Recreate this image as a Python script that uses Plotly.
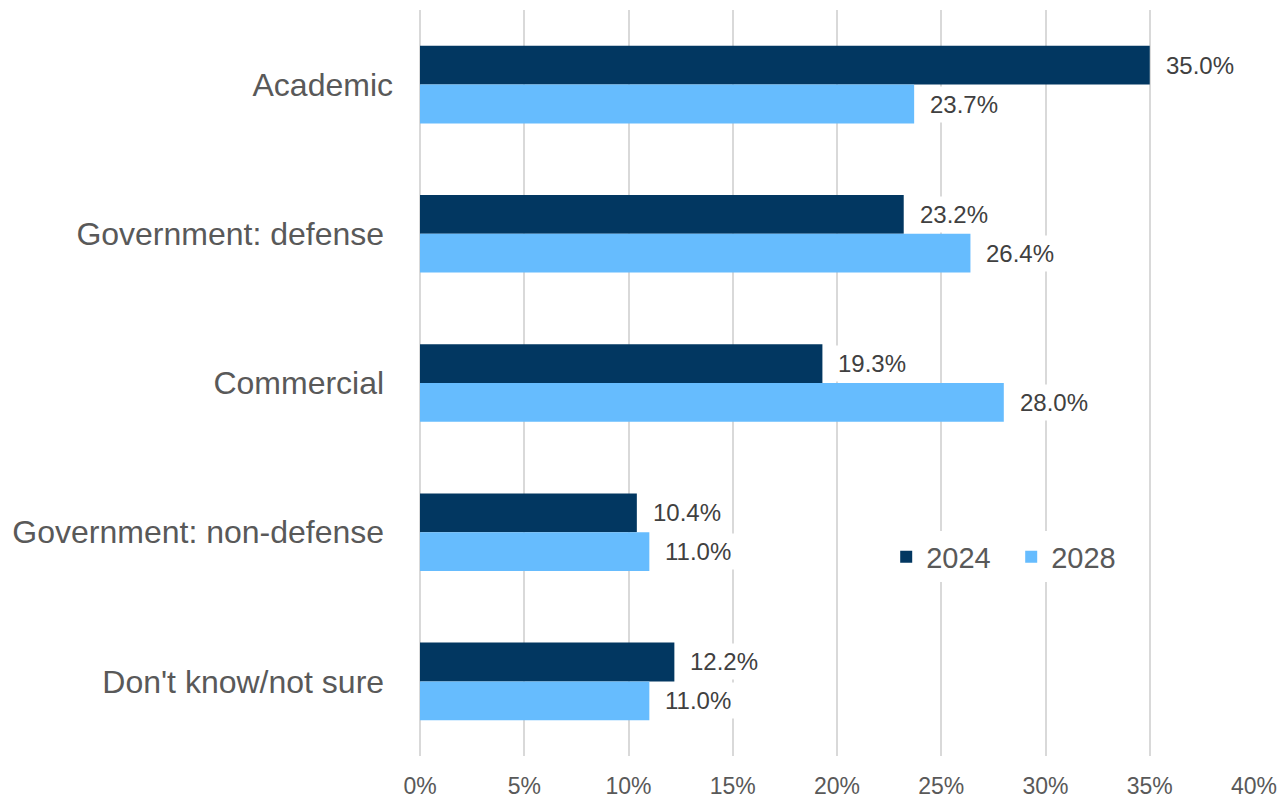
import plotly.graph_objects as go

# Sector shares (%) for each year
categories = ["Academic", "Government: defense\u00a0", "Commercial\u00a0",
              "Government: non-defense\u00a0", "Don't know/not sure\u00a0"]
values_2024 = [35.0, 23.2, 19.3, 10.4, 12.2]
values_2028 = [23.7, 26.4, 28.0, 11.0, 11.0]
x_ticks = [0, 5, 10, 15, 20, 25, 30, 35, 40]
x_tick_text = [f"{t}%" for t in x_ticks]

DARK = "#023761"
LIGHT = "#66BCFE"
GRID = "#D9D9D9"

fig = go.Figure()
fig.add_trace(go.Bar(y=categories, x=values_2024, name="2024", orientation="h",
                     marker=dict(color=DARK, line=dict(width=0))))
fig.add_trace(go.Bar(y=categories, x=values_2028, name="2028", orientation="h",
                     marker=dict(color=LIGHT, line=dict(width=0))))

# Value labels on a white backing so gridlines break behind them
annotations = []
for series, shift in ((values_2024, 19.5), (values_2028, -19.5)):
    for cat, v in zip(categories, series):
        annotations.append(dict(
            x=v, y=cat, xref="x", yref="y", text=f"{v:.1f}%",
            showarrow=False, xanchor="left", yanchor="middle",
            xshift=11, yshift=shift, bgcolor="white", borderpad=4,
            font=dict(family="Liberation Sans, Arial", size=24, color="#404040"),
        ))

fig.update_layout(
    width=1283, height=798,
    margin=dict(l=420, r=29, t=10, b=42),
    paper_bgcolor="white", plot_bgcolor="white",
    barmode="group", bargap=0.48, bargroupgap=0,
    font=dict(family="Liberation Sans, Arial", color="#595959"),
    annotations=annotations,
    legend=dict(
        orientation="h", x=0.559, y=0.267, xanchor="left", yanchor="middle",
        bgcolor="white", font=dict(size=29, color="#595959"),
        itemclick=False, entrywidth=80, entrywidthmode="pixels",
    ),
    showlegend=True,
)
fig.update_xaxes(
    range=[0, 40], tickvals=x_ticks, ticktext=x_tick_text,
    showgrid=True, gridcolor=GRID, gridwidth=2,
    zeroline=True, zerolinecolor=GRID, zerolinewidth=2,
    showline=False, ticks="", ticklabelstandoff=14, automargin=False,
    tickfont=dict(size=23, color="#595959"),
)
fig.update_yaxes(
    autorange="reversed", showgrid=False, showline=False, ticks="",
    ticklabelstandoff=26, automargin=False,
    tickfont=dict(size=32, color="#595959"),
)

fig.write_html("out.html")
